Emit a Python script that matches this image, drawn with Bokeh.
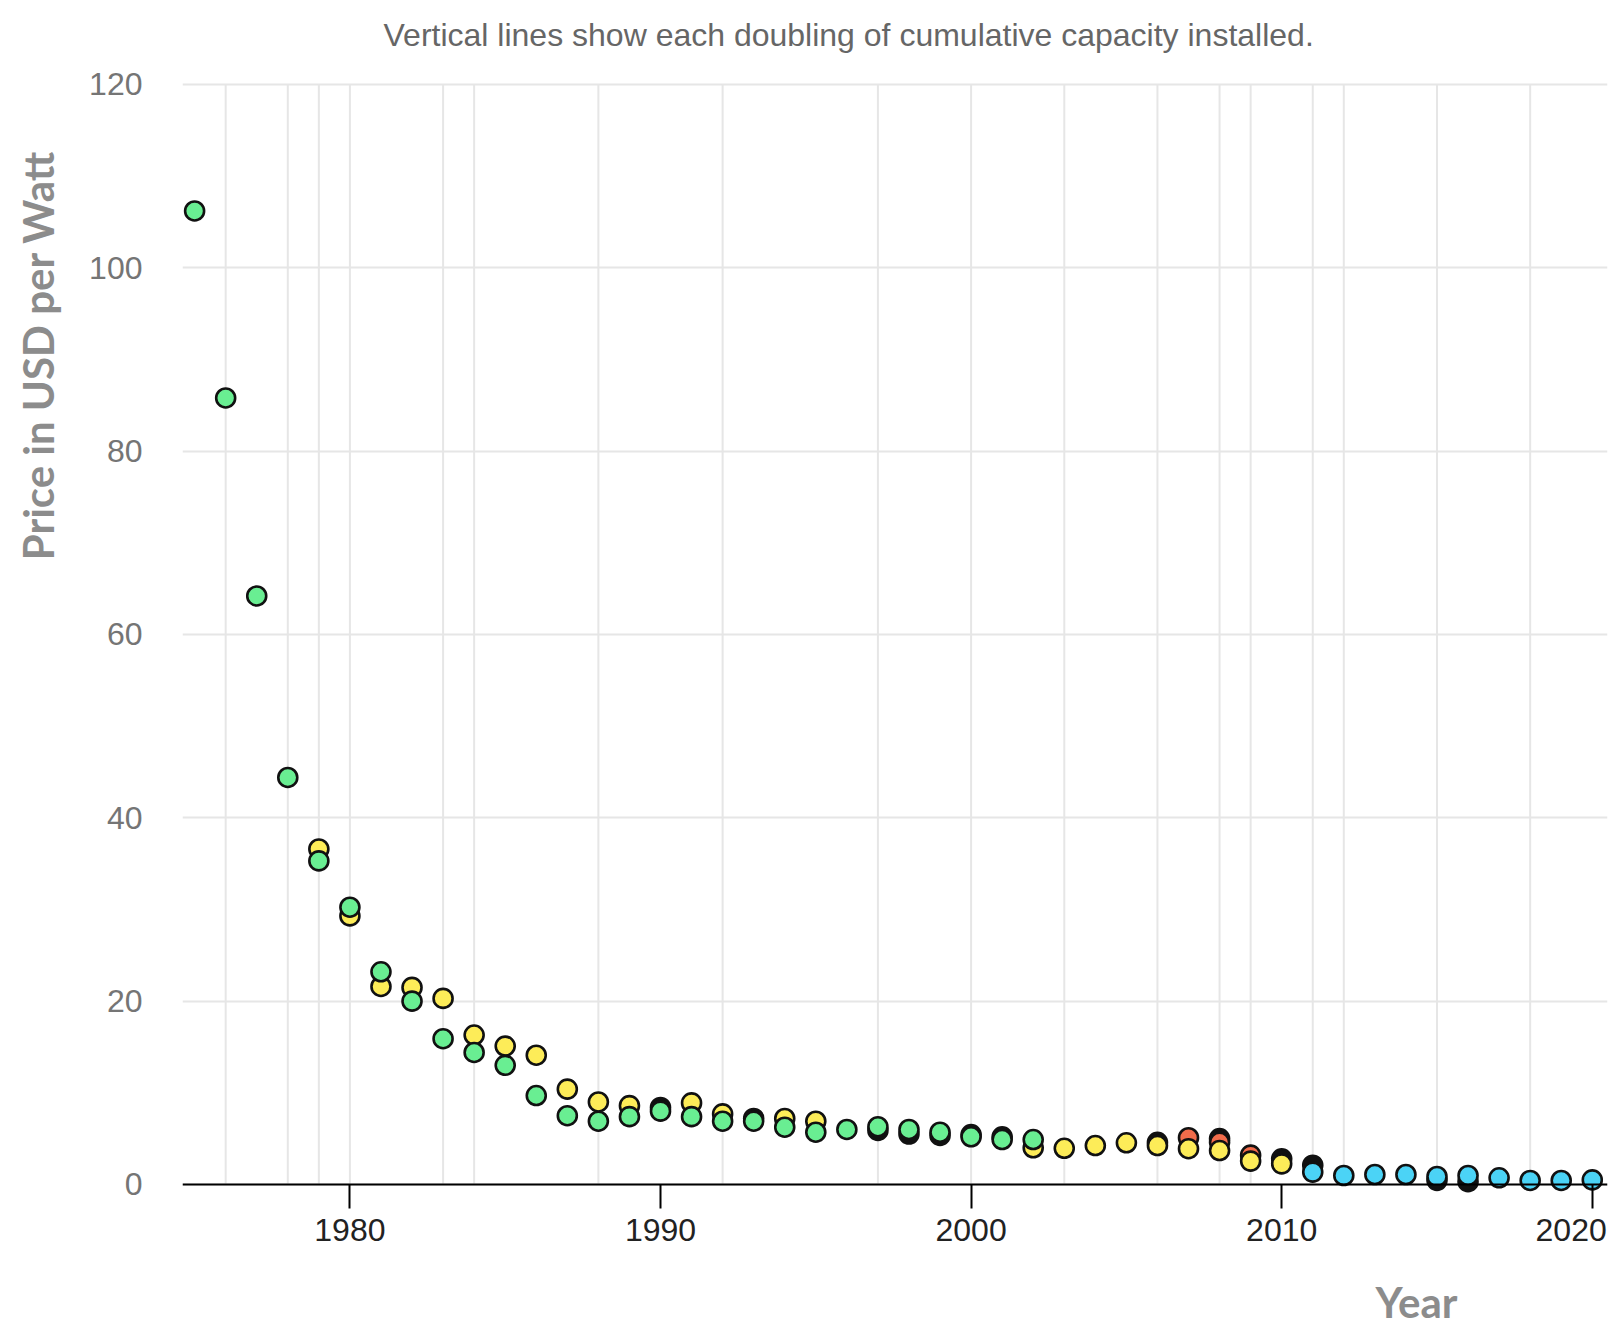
from bokeh.plotting import figure
from bokeh.models import Range1d, Title, FixedTicker, Span
from bokeh.embed import file_html
from bokeh.resources import INLINE

# ---------------- data ----------------
title_text = "Vertical lines show each doubling of cumulative capacity installed."
x_label = "Year"
y_label = "Price in USD per Watt"

x_ticks = [1980, 1990, 2000, 2010, 2020]
y_ticks = [0, 20, 40, 60, 80, 100, 120]

doubling_years = [1976, 1978, 1979, 1980, 1983, 1984, 1988, 1992, 1997,
                  2000, 2003, 2006, 2008, 2009, 2011, 2012, 2015, 2018]

green_years = [1975, 1976, 1977, 1978, 1979, 1980, 1981, 1982, 1983, 1984,
               1985, 1986, 1987, 1988, 1989, 1990, 1991, 1992, 1993, 1994,
               1995, 1996, 1997, 1998, 1999, 2000, 2001, 2002]
green_price = [106.2, 85.8, 64.2, 44.4, 35.3, 30.25, 23.2, 20.0, 15.9, 14.4,
               13.0, 9.7, 7.5, 6.9, 7.4, 8.0, 7.4, 6.9, 6.9, 6.25,
               5.7, 6.0, 6.3, 6.0, 5.7, 5.2, 4.9, 4.9]

yellow_years = [1979, 1980, 1981, 1982, 1983, 1984, 1985, 1986, 1987, 1988,
                1989, 1991, 1992, 1994, 1995, 2002, 2003, 2004, 2005, 2006,
                2007, 2008, 2009, 2010]
yellow_price = [36.6, 29.3, 21.6, 21.5, 20.3, 16.3, 15.1, 14.1, 10.4, 9.0,
                8.6, 8.9, 7.7, 7.2, 6.9, 4.0, 3.95, 4.25, 4.55, 4.25,
                3.9, 3.7, 2.55, 2.25]

orange_years = [2007, 2008, 2009]
orange_price = [5.1, 4.6, 3.2]

black_years = [1990, 1993, 1997, 1998, 1999, 2000, 2001, 2006, 2008, 2010,
               2011, 2015, 2016]
black_price = [8.4, 7.2, 5.9, 5.5, 5.35, 5.45, 5.2, 4.6, 5.0, 2.8,
               2.1, 0.45, 0.3]

blue_years = [2011, 2012, 2013, 2014, 2015, 2016, 2017, 2018, 2019, 2020]
blue_price = [1.35, 0.98, 1.09, 1.09, 0.87, 0.98, 0.73, 0.44, 0.44, 0.5]

# ---------------- figure ----------------
GRID = "#e6e6e6"
LABEL_GRAY = "#8c8c8c"

p = figure(width=1624, height=1336, output_backend="svg", toolbar_location=None,
           x_range=Range1d(1974.61, 2020.49), y_range=Range1d(-2.62, 123.05),
           min_border_left=182, min_border_right=17, min_border_top=56,
           min_border_bottom=128)
p.outline_line_color = None
p.background_fill_color = "white"
p.border_fill_color = "white"

p.title.text = title_text
p.title.text_font = "Liberation Sans"
p.title.text_font_size = "32px"
p.title.text_font_style = "normal"
p.title.text_color = "#666666"
p.title.align = "left"
p.title.offset = 201
p.title.standoff = 8

# x axis (ticks reach up to the zero line)
xa = p.xaxis[0]
xa.ticker = FixedTicker(ticks=x_ticks)
xa.axis_line_color = None
xa.major_tick_line_color = "black"
xa.major_tick_line_width = 2
xa.major_tick_out = 0
xa.major_tick_in = 24
xa.minor_tick_line_color = None
xa.major_label_text_font = "Liberation Sans"
xa.major_label_text_font_size = "32px"
xa.major_label_text_color = "#222222"
xa.major_label_standoff = 3
# the last label is pulled inwards so that it stays inside the chart
xa.major_label_overrides = {x_ticks[-1]: str(x_ticks[-1]) + "\u00a0" * 2}

ya = p.yaxis[0]
ya.ticker = FixedTicker(ticks=y_ticks)
ya.axis_line_color = None
ya.major_tick_line_color = None
ya.major_tick_out = 0
ya.major_tick_in = 0
ya.minor_tick_line_color = None
ya.major_label_text_font = "Liberation Sans"
ya.major_label_text_font_size = "32px"
ya.major_label_text_color = "#757575"
ya.major_label_standoff = 40

p.xgrid.visible = False
p.ygrid.ticker = FixedTicker(ticks=y_ticks)
p.ygrid.grid_line_color = GRID
p.ygrid.grid_line_width = 2

# vertical doubling lines
p.segment(x0=doubling_years, y0=[y_ticks[0]] * len(doubling_years),
          x1=doubling_years, y1=[y_ticks[-1]] * len(doubling_years),
          line_color=GRID, line_width=2)

# zero line (x axis line)
p.add_layout(Span(location=y_ticks[0], dimension="width", line_color="black",
                  line_width=2))

SZ = 19
LW = 2.6
OUT = "#111111"
p.scatter(black_years, black_price, size=SZ, fill_color="#111111", line_color=OUT, line_width=LW)
p.scatter(orange_years, orange_price, size=SZ, fill_color="#F26C4B", line_color=OUT, line_width=LW)
p.scatter(yellow_years, yellow_price, size=SZ, fill_color="#FDEC58", line_color=OUT, line_width=LW)
p.scatter(green_years, green_price, size=SZ, fill_color="#69EE92", line_color=OUT, line_width=LW)
p.scatter(blue_years, blue_price, size=SZ, fill_color="#4BD3F6", line_color=OUT, line_width=LW)

# axis titles (spacer titles keep them at the right distance)
left_spacer = Title(text=" ", text_font="Liberation Sans", text_font_size="12px",
                    standoff=5.5)
ytitle = Title(text=y_label, align="right", offset=94, vertical_align="top",
               standoff=0, text_font="Lato", text_font_style="bold",
               text_font_size="42px", text_color=LABEL_GRAY)
p.add_layout(left_spacer, "left")
p.add_layout(ytitle, "left")

bottom_spacer = Title(text=" ", text_font="Liberation Sans", text_font_size="12px",
                      standoff=10)
xtitle = Title(text=x_label, align="left", offset=1193, vertical_align="top",
               standoff=0, text_font="Lato", text_font_style="bold",
               text_font_size="42px", text_color=LABEL_GRAY)
p.add_layout(bottom_spacer, "below")
p.add_layout(xtitle, "below")

open("out.html", "w").write(file_html(p, INLINE))
